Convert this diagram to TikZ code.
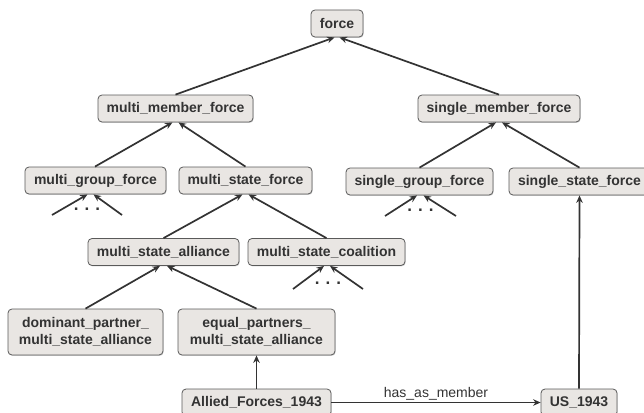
\documentclass[tikz,border=0pt]{standalone}
\usepackage{fontspec}
\setmainfont{Liberation Sans}
\usetikzlibrary{arrows.meta,shadows}
\definecolor{boxfill}{HTML}{E9E6E3}
\definecolor{boxborder}{HTML}{5A5A5A}
\definecolor{ink}{HTML}{333333}
\begin{document}
\begin{tikzpicture}[x=1pt,y=-1pt,
  box/.style={draw=boxborder, fill=boxfill, rounded corners=4pt, line width=0.8pt,
    font=\bfseries\fontsize{14}{16.5}\selectfont, text=ink, minimum height=27pt,
    inner xsep=6pt, inner ysep=3pt, align=center,
    drop shadow={shadow xshift=0.7pt, shadow yshift=-0.9pt, opacity=0.35}},
  isa/.style={draw=ink, line width=1.7pt, -{Stealth[length=7.5pt,width=6.5pt]}},
  dotsnode/.style={font=\bfseries\fontsize{17}{18}\selectfont, text=ink, inner sep=0pt}]
\useasboundingbox (0,0) rectangle (644,412);

\node[box, minimum width=52pt]  (force) at (337,23.5) {force};
\node[box, minimum width=155pt] (mmf)   at (175.5,108.5) {multi\_member\_force};
\node[box, minimum width=162pt] (smf)   at (499,108.5) {single\_member\_force};
\node[box, minimum width=141pt] (mgf)   at (95.5,180.5) {multi\_group\_force};
\node[box, minimum width=133pt] (msf)   at (245.5,180.5) {multi\_state\_force};
\node[box, minimum width=147pt] (sgf)   at (419.5,181.5) {single\_group\_force};
\node[box, minimum width=141pt] (ssf)   at (579.5,181.5) {single\_state\_force};
\node[box, minimum width=151pt] (msa)   at (163.5,252) {multi\_state\_alliance};
\node[box, minimum width=157pt] (msc)   at (326.5,252) {multi\_state\_coalition};
\node[box, minimum width=155pt, minimum height=46pt] (dpa) at (85.5,332) {dominant\_partner\_\\multi\_state\_alliance};
\node[box, minimum width=157pt, minimum height=46pt] (epa) at (256.5,332) {equal\_partners\_\\multi\_state\_alliance};
\node[box, minimum width=149pt] (af)    at (256.5,402.5) {Allied\_Forces\_1943};
\node[box, minimum width=76pt]  (us)    at (579,402.5) {US\_1943};

% hierarchy
\draw[isa] (mmf.north) -- ([xshift=-2.5pt]force.south);
\draw[isa] (smf.north) -- ([xshift=2.5pt]force.south);
\draw[isa] ([xshift=-0.5pt]mgf.north) -- ([xshift=-3pt]mmf.south);
\draw[isa] (msf.north) -- ([xshift=3pt]mmf.south);
\draw[isa] (sgf.north) -- ([xshift=-3pt]smf.south);
\draw[isa] (ssf.north) -- ([xshift=3pt]smf.south);
\draw[isa] (msa.north) -- ([xshift=-3pt]msf.south);
\draw[isa] (msc.north) -- ([xshift=3pt]msf.south);
\draw[isa] (dpa.north) -- ([xshift=-3.5pt]msa.south);
\draw[isa] (epa.north) -- ([xshift=3.5pt]msa.south);
\draw[isa] (af.north) -- (epa.south);
\draw[isa] (us.north) -- (ssf.south);

% fans with dots
\coordinate (mgfL) at (52,215);
\coordinate (mgfR) at (122,215);
\node[dotsnode] (mgfdots) at (87,209) {.\hspace{6pt}.\hspace{6pt}.};
\draw[isa] (mgfL) -- ([xshift=-8pt]mgf.south);
\draw[isa] (mgfR) -- ([xshift=-2pt]mgf.south);

\coordinate (sgfL) at (385,216);
\coordinate (sgfR) at (456,216);
\node[dotsnode] (sgfdots) at (420.5,210) {.\hspace{6pt}.\hspace{6pt}.};
\draw[isa] (sgfL) -- ([xshift=-2.5pt]sgf.south);
\draw[isa] (sgfR) -- ([xshift=4pt]sgf.south);

\coordinate (mscL) at (293,289);
\coordinate (mscR) at (363,289);
\node[dotsnode] (mscdots) at (328,283) {.\hspace{6pt}.\hspace{6pt}.};
\draw[isa] (mscL) -- ([xshift=-2.5pt]msc.south);
\draw[isa] (mscR) -- ([xshift=3.5pt]msc.south);

% relation
\draw[isa] (af.east) -- node[above, font=\fontsize{14}{16}\selectfont, text=ink, inner sep=2pt, yshift=-1pt] (lbl) {has\_as\_member} (us.west);
\end{tikzpicture}
\end{document}
